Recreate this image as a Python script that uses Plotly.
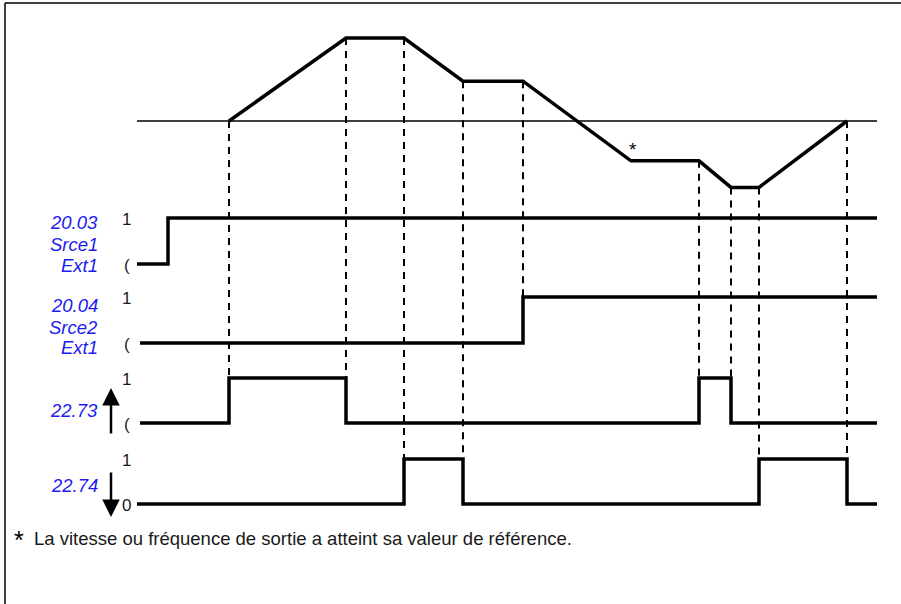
import numpy as np
import plotly.graph_objects as go

W, H = 901, 604

# ---------------- data ----------------
# speed / frequency profile (time, value); reference level = 0
speed_t = [229, 346, 404, 463, 523, 631, 699, 731, 759, 847]
speed_v = [0, 100, 100, 48, 48, -48, -48, -80, -80, 0]
ref_t = [137, 877]
ref_v = [0, 0]
star_t, star_v = 633, -48

# digital signals (time of each level change, level)
sig_names = ["20.03", "20.04", "22.73", "22.74"]
s2003_t = [137, 168, 877]
s2003_v = [0, 1, 1]
s2004_t = [140, 523, 877]
s2004_v = [0, 1, 1]
s2273_t = [140, 229, 346, 699, 731, 877]
s2273_v = [0, 1, 0, 1, 0, 0]
s2274_t = [137, 404, 463, 759, 847, 877]
s2274_v = [0, 1, 0, 1, 0, 0]

# dashed connectors: (time, signal index, signal level at bottom end)
conn_t = [229, 346, 404, 463, 523, 699, 731, 759, 847]
conn_sig = [2, 2, 3, 3, 1, 2, 2, 3, 3]
conn_lvl = [1, 0, 0, 0, 0, 0, 0, 0, -0.15]

low_labels = ["(", "(", "(", "0"]
high_labels = ["1", "1", "1", "1"]
footnote = "La vitesse ou fréquence de sortie a atteint sa valeur de référence."

# ---------------- layout geometry ----------------
SPEED_ZERO_PX, SPEED_PX_PER_UNIT = 121, 0.83
SIG_LOW_PX = [264, 343, 423, 504]
SIG_HIGH_PX = [218, 297, 378, 459]


def speed_px(v):
    return SPEED_ZERO_PX - SPEED_PX_PER_UNIT * np.asarray(v, float)


def sig_px(i, v):
    s = SIG_LOW_PX[i] - SIG_HIGH_PX[i]
    return SIG_LOW_PX[i] - s * np.asarray(v, float)


def px_y(p):
    return 1 - p / H


def px_x(p):
    return p / W


fig = go.Figure()
BLACK = "#000000"
BLUE = "#1c1cf0"
TXT = "#1a1a1a"

# dashed connectors
for t, si, lv in zip(conn_t, conn_sig, conn_lvl):
    top = float(speed_px(np.interp(t, speed_t, speed_v)))
    bot = float(sig_px(si, lv))
    fig.add_trace(go.Scatter(x=[t, t], y=[top, bot], mode="lines", yaxis="y6",
                             line=dict(color=BLACK, width=2, dash="7px,6px"),
                             hoverinfo="skip", showlegend=False))

# reference line
fig.add_trace(go.Scatter(x=ref_t, y=ref_v, mode="lines", yaxis="y",
                         line=dict(color=BLACK, width=1.5), showlegend=False))
# speed profile
fig.add_trace(go.Scatter(x=speed_t, y=speed_v, mode="lines", yaxis="y",
                         line=dict(color=BLACK, width=3.5), showlegend=False))

sigs = [(s2003_t, s2003_v), (s2004_t, s2004_v), (s2273_t, s2273_v), (s2274_t, s2274_v)]
for i, (t, v) in enumerate(sigs):
    fig.add_trace(go.Scatter(x=t, y=v, mode="lines", yaxis=f"y{i + 2}",
                             line=dict(color=BLACK, width=3.5, shape="hv"),
                             showlegend=False))

# axes
layout_axes = {}
layout_axes["xaxis"] = dict(range=[0, W], visible=False, fixedrange=True, showline=False,
                            zeroline=False, showgrid=False)
layout_axes["yaxis"] = dict(range=[(SPEED_ZERO_PX - H) / SPEED_PX_PER_UNIT,
                                   SPEED_ZERO_PX / SPEED_PX_PER_UNIT],
                            visible=False, domain=[0, 1], zeroline=False, showgrid=False)
for i in range(4):
    s = SIG_LOW_PX[i] - SIG_HIGH_PX[i]
    layout_axes[f"yaxis{i + 2}"] = dict(range=[(SIG_LOW_PX[i] - H) / s, SIG_LOW_PX[i] / s],
                                        visible=False, overlaying="y", domain=[0, 1],
                                        zeroline=False, showgrid=False)
layout_axes["yaxis6"] = dict(range=[H, 0], visible=False, overlaying="y", domain=[0, 1],
                             zeroline=False, showgrid=False)

ann = []
FONT = "Arial, Liberation Sans, sans-serif"
# blue labels
blue_lines = [(["20.03", "Srce1", "Ext1"], [222, 244, 266]),
              (["20.04", "Srce2", "Ext1"], [305, 327, 348]),
              (["22.73"], [410]),
              (["22.74"], [485])]
for texts, ys in blue_lines:
    for tx, y in zip(texts, ys):
        ann.append(dict(x=px_x(100), y=px_y(y), xref="paper", yref="paper", text=f"<i>{tx}</i>",
                        showarrow=False, xanchor="right", yanchor="middle",
                        font=dict(family=FONT, size=18.5, color=BLUE)))
# level labels
for i in range(4):
    ann.append(dict(x=px_x(127), y=px_y(SIG_HIGH_PX[i] + 1), xref="paper", yref="paper",
                    text=high_labels[i], showarrow=False, xanchor="center", yanchor="middle",
                    font=dict(family=FONT, size=17, color=TXT)))
    ann.append(dict(x=px_x(127), y=px_y(SIG_LOW_PX[i] + 1), xref="paper", yref="paper",
                    text=low_labels[i], showarrow=False, xanchor="center", yanchor="middle",
                    font=dict(family=FONT, size=17, color=TXT)))
# arrows
ann.append(dict(x=px_x(111), y=px_y(388), xref="paper", yref="paper", showarrow=True,
                ax=0, ay=47, arrowhead=2, arrowsize=1.4, arrowwidth=2.5, arrowcolor=BLACK, text=""))
ann.append(dict(x=px_x(111), y=px_y(517), xref="paper", yref="paper", showarrow=True,
                ax=0, ay=-46, arrowhead=2, arrowsize=1.4, arrowwidth=2.5, arrowcolor=BLACK, text=""))
# asterisk on curve
ann.append(dict(x=star_t, y=star_v, xref="x", yref="y", text="*", showarrow=False,
                yshift=11, font=dict(family=FONT, size=19, color=BLACK)))
# footnote
ann.append(dict(x=px_x(19), y=px_y(540), xref="paper", yref="paper", text="*", showarrow=False,
                xanchor="center", yanchor="middle", font=dict(family=FONT, size=25, color=BLACK)))
ann.append(dict(x=px_x(32), y=px_y(538), xref="paper", yref="paper", text=footnote,
                showarrow=False, xanchor="left", yanchor="middle",
                font=dict(family=FONT, size=18.5, color=TXT)))

shapes = [
    dict(type="line", xref="paper", yref="paper", x0=px_x(5), x1=1.01, y0=px_y(3), y1=px_y(3),
         line=dict(color=BLACK, width=1.5)),
    dict(type="line", xref="paper", yref="paper", x0=px_x(5), x1=px_x(5), y0=px_y(3), y1=-0.01,
         line=dict(color=BLACK, width=1.5)),
]

fig.update_layout(width=W, height=H, autosize=False,
                  margin=dict(l=0, r=0, t=0, b=0, pad=0),
                  paper_bgcolor="white", plot_bgcolor="white",
                  annotations=ann, shapes=shapes, **layout_axes)

fig.write_html("out.html", config={"displayModeBar": False},
               post_script=("document.body.style.margin='0';"
                            "document.body.style.overflow='hidden';"
                            "document.documentElement.style.overflow='hidden';"))
